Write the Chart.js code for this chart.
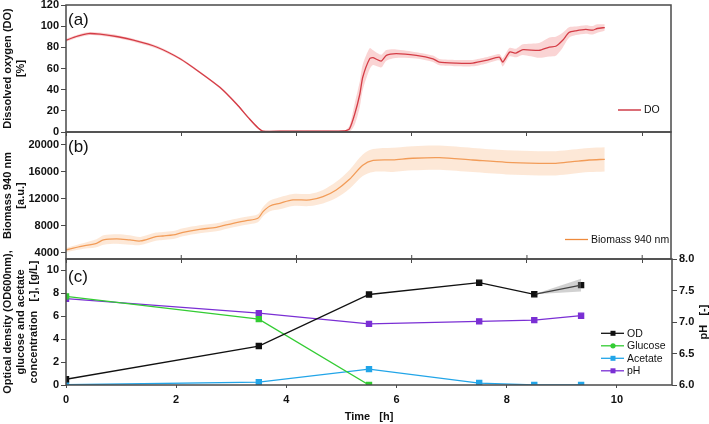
<!DOCTYPE html>
<html>
<head>
<meta charset="utf-8">
<script src="https://cdn.jsdelivr.net/npm/chart.js@4.4.1/dist/chart.umd.min.js"></script>
<style>
  html, body { margin: 0; padding: 0; background: #fff; }
  #wrap { position: relative; width: 709px; height: 424px; }
  #wrap canvas { position: absolute; left: 0; top: 0; }
</style>
</head>
<body>
<div id="wrap">
  <canvas id="panelA" width="709" height="424"></canvas>
  <canvas id="panelB" width="709" height="424"></canvas>
  <canvas id="panelC" width="709" height="424"></canvas>
</div>
<script>
// ---- (a) dissolved oxygen, online signal ----
const doTime = [0, 0.2, 0.39, 0.59, 0.9, 1.17, 1.57, 1.98, 2.32, 2.67, 2.96, 3.19, 3.33, 3.42, 3.8, 4.3, 4.84,
  4.92, 5.01, 5.1, 5.15, 5.27, 5.33, 5.47, 5.56, 5.73, 6.08, 6.37, 6.48, 6.77, 7.06, 7.29, 7.52, 7.58, 7.7,
  7.81, 7.93, 8.21, 8.39, 8.5, 8.62, 8.73, 8.85, 9.02, 9.14, 9.22, 9.35];
const doValue = [86.7, 90.5, 93, 92.4, 90, 86.7, 80.3, 69.2, 56.5, 42.2, 26.4, 12, 4, 0.8, 0.8, 0.8, 1,
  3, 16.8, 35.9, 51.7, 69.2, 70.2, 67, 72.4, 74, 72.4, 69.2, 66, 65.1, 65.1, 67.6, 70.8, 66, 75.5,
  74.6, 77.8, 77.1, 80.3, 81, 86.7, 94, 95.6, 96.9, 96.2, 97.8, 98.7];
const doStd = [1.5, 1.5, 1.5, 1.5, 1.5, 1.5, 1.5, 1.2, 1, 1, 1, 1, 1, 0.5, 0.5, 0.5, 0.5,
  3, 10, 12, 12, 10, 7, 6, 5, 4, 3, 3, 3, 3, 3, 3, 3, 4, 4,
  4, 5, 7, 9, 9, 7, 5, 4, 4, 4, 4, 3];

// ---- (b) biomass 940 nm, online signal ----
const bmTime = [0, 0.24, 0.53, 0.65, 0.88, 1.11, 1.29, 1.56, 1.68, 1.86, 2.03, 2.32, 2.61, 2.9, 3.13, 3.33,
  3.42, 3.54, 3.71, 3.94, 4.23, 4.46, 4.69, 4.92, 5.15, 5.33, 5.67, 6.02, 6.48, 7.06, 7.64, 8.21, 8.5,
  8.79, 9.08, 9.35];
const bmValue = [4400, 4890, 5400, 5890, 6040, 5890, 5740, 6380, 6480, 6630, 7030, 7470, 7770, 8370, 8750, 9110,
  10100, 10940, 11340, 11830, 11830, 12320, 13320, 14900, 17000, 17700, 17800, 18030, 18120, 17770, 17430, 17280, 17280,
  17520, 17770, 17870];
const bmStd = [300, 400, 600, 700, 700, 700, 600, 600, 600, 600, 600, 600, 600, 600, 600, 600,
  700, 800, 900, 900, 900, 1000, 1200, 1400, 1600, 1700, 1800, 1800, 1800, 1800, 1800, 1800, 1800,
  1800, 1800, 1800];

// ---- (c) offline samples ----
const sampleTime = [0, 3.5, 5.5, 7.5, 8.5, 9.35];
const odValue = [0.5, 3.4, 7.9, 8.93, 7.92, 8.72];
const odStd = [0, 0, 0, 0, 0, 0.55];
const glucoseTime = [0, 3.5, 5.5];
const glucoseValue = [7.74, 5.75, 0];
const acetateValue = [0.02, 0.25, 1.39, 0.17, 0, 0];
const phValue = [7.37, 7.14, 6.97, 7.01, 7.03, 7.1];

// tick labels
const timeTicks = [0, 2, 4, 6, 8, 10];
const doTicks = [0, 20, 40, 60, 80, 100, 120];
const bmTicks = [4000, 8000, 12000, 16000, 20000];
const concTicks = [0, 2, 4, 6, 8, 10];
const phTicks = [6.0, 6.5, 7.0, 7.5, 8.0];

Chart.defaults.font.family = "'Liberation Sans', Arial, sans-serif";
Chart.defaults.color = '#111';

const pts = (xs, ys) => xs.map((x, i) => ({ x: x, y: ys[i] }));
const band = (xs, ys, sd, sign) => xs.map((x, i) => ({ x: x, y: ys[i] + sign * sd[i] }));
const fixedTicks = list => s => { s.ticks = list.map(v => ({ value: v })); };

const AXIS = '#4a4a4a';
const tickFont = { size: 11, weight: 'bold' };
const titleFont = { size: 11, weight: 'bold', lineHeight: 1.2 };

// frame, inner ticks, panel letter and hand placed legend
const panelDecor = {
  id: 'panelDecor',
  afterDraw(chart, args, opts) {
    const { ctx, chartArea: a } = chart;
    ctx.save();
    ctx.strokeStyle = AXIS;
    ctx.lineWidth = 1.5;
    ctx.strokeRect(a.left, a.top, a.right - a.left, a.bottom - a.top);

    if (opts.innerBottomTicks) {
      const xs = chart.scales.x;
      ctx.lineWidth = 1;
      xs.ticks.forEach(t => {
        const px = xs.getPixelForValue(t.value);
        if (px <= a.left + 1) return;
        ctx.beginPath();
        ctx.moveTo(px, a.bottom);
        ctx.lineTo(px, a.bottom - 4);
        ctx.stroke();
      });
    }

    ctx.fillStyle = '#111';
    ctx.textAlign = 'left';
    ctx.textBaseline = 'middle';
    ctx.font = "17px 'Liberation Sans', Arial, sans-serif";
    ctx.fillText(opts.label, a.left + 2, a.top + opts.labelDy);

    ctx.font = "10.5px 'Liberation Sans', Arial, sans-serif";
    (opts.legend || []).forEach((it, i) => {
      const y = opts.legendY + i * 12.5;
      ctx.strokeStyle = it.color;
      ctx.lineWidth = 1.3;
      ctx.beginPath();
      ctx.moveTo(opts.legendX, y);
      ctx.lineTo(opts.legendX + 23, y);
      ctx.stroke();
      ctx.fillStyle = it.color;
      const mx = opts.legendX + 12;
      if (it.marker === 'rect') ctx.fillRect(mx - 2.5, y - 2.5, 5, 5);
      if (it.marker === 'circle') { ctx.beginPath(); ctx.arc(mx, y, 2.6, 0, Math.PI * 2); ctx.fill(); }
      ctx.fillStyle = '#111';
      ctx.fillText(it.text, opts.legendX + 26, y + 0.5);
    });

    if (opts.rightTitle) {
      ctx.save();
      ctx.translate(704, (a.top + a.bottom) / 2);
      ctx.rotate(-Math.PI / 2);
      ctx.textAlign = 'center';
      ctx.font = "bold 11px 'Liberation Sans', Arial, sans-serif";
      ctx.fillText(opts.rightTitle, 0, 0);
      ctx.restore();
    }
    ctx.restore();
  }
};

function yFit(w) {
  return scale => { scale.width = w; scale.paddingTop = 0; scale.paddingBottom = 0; };
}
function xFit(h) {
  return scale => { scale.height = h; scale.paddingLeft = 0; scale.paddingRight = 0; };
}

function hiddenX(max) {
  return {
    type: 'linear', min: 0, max: max,
    afterBuildTicks: fixedTicks(timeTicks),
    ticks: { display: false },
    grid: { drawOnChartArea: false, drawTicks: true, tickLength: 4, color: AXIS },
    border: { display: false },
    afterFit: xFit(0)
  };
}

function leftY(min, max, list, title, w) {
  return {
    type: 'linear', position: 'left', min: min, max: max,
    afterBuildTicks: fixedTicks(list),
    ticks: { font: tickFont, padding: 2, color: '#111', callback: v => String(v) },
    grid: { drawOnChartArea: false, tickLength: 5, color: AXIS },
    border: { display: false },
    title: { display: true, text: title, font: titleFont, color: '#111', padding: { top: 1, bottom: 0 } },
    afterFit: yFit(w)
  };
}

const baseOpts = {
  responsive: false,
  animation: false,
  events: [],
  plugins: { legend: { display: false }, tooltip: { enabled: false } }
};

// ---------------- panel (a) ----------------
new Chart(document.getElementById('panelA'), {
  type: 'line',
  data: {
    datasets: [
      { data: band(doTime, doValue, doStd, 1), borderWidth: 0, pointRadius: 0, fill: '+1',
        backgroundColor: 'rgba(240,120,120,0.32)', tension: 0.25 },
      { data: band(doTime, doValue, doStd, -1), borderWidth: 0, pointRadius: 0, fill: false, tension: 0.25 },
      { data: pts(doTime, doValue), borderColor: '#c8202e', borderWidth: 1.3, pointRadius: 0, fill: false, tension: 0.2 }
    ]
  },
  options: Object.assign({}, baseOpts, {
    layout: { padding: { left: 0, top: 5, right: 38, bottom: 292 } },
    scales: {
      x: hiddenX(10.5),
      y: leftY(0, 120, doTicks, ['Dissolved oxygen (DO)', '[%]'], 66)
    },
    plugins: Object.assign({}, baseOpts.plugins, {
      panelDecor: { label: '(a)', labelDy: 15, legendX: 618, legendY: 110,
        legend: [{ text: 'DO', color: '#c8202e' }] }
    })
  }),
  plugins: [panelDecor]
});

// ---------------- panel (b) ----------------
new Chart(document.getElementById('panelB'), {
  type: 'line',
  data: {
    datasets: [
      { data: band(bmTime, bmValue, bmStd, 1), borderWidth: 0, pointRadius: 0, fill: '+1',
        backgroundColor: 'rgba(250,190,140,0.35)', tension: 0.3 },
      { data: band(bmTime, bmValue, bmStd, -1), borderWidth: 0, pointRadius: 0, fill: false, tension: 0.3 },
      { data: pts(bmTime, bmValue), borderColor: '#ee8a3c', borderWidth: 1.3, pointRadius: 0, fill: false, tension: 0.3 }
    ]
  },
  options: Object.assign({}, baseOpts, {
    layout: { padding: { left: 0, top: 132, right: 38, bottom: 165 } },
    scales: {
      x: hiddenX(10.5),
      y: leftY(3060, 21930, bmTicks, ['Biomass 940 nm', '[a.u.]'], 66)
    },
    plugins: Object.assign({}, baseOpts.plugins, {
      panelDecor: { label: '(b)', labelDy: 15, legendX: 565, legendY: 239.5, innerBottomTicks: true,
        legend: [{ text: 'Biomass 940 nm', color: '#ee8a3c' }] }
    })
  }),
  plugins: [panelDecor]
});

// ---------------- panel (c) ----------------
new Chart(document.getElementById('panelC'), {
  type: 'line',
  data: {
    datasets: [
      { data: band(sampleTime, odValue, odStd, 1).slice(4), borderWidth: 0, pointRadius: 0, fill: '+1',
        backgroundColor: 'rgba(140,140,140,0.4)', yAxisID: 'y' },
      { data: band(sampleTime, odValue, odStd, -1).slice(4), borderWidth: 0, pointRadius: 0, fill: false, yAxisID: 'y' },
      { label: 'OD', data: pts(sampleTime, odValue), borderColor: '#111', backgroundColor: '#111',
        borderWidth: 1.3, pointStyle: 'rect', pointRadius: 3.6, yAxisID: 'y' },
      { label: 'Glucose', data: pts(glucoseTime, glucoseValue), borderColor: '#33cc33', backgroundColor: '#33cc33',
        borderWidth: 1.3, pointStyle: 'rect', pointRadius: 3.6, yAxisID: 'y' },
      { label: 'Acetate', data: pts(sampleTime, acetateValue), borderColor: '#22a5e8', backgroundColor: '#22a5e8',
        borderWidth: 1.3, pointStyle: 'rect', pointRadius: 3.6, yAxisID: 'y' },
      { label: 'pH', data: pts(sampleTime, phValue), borderColor: '#7a2fd4', backgroundColor: '#7a2fd4',
        borderWidth: 1.3, pointStyle: 'rect', pointRadius: 3.6, yAxisID: 'ph' }
    ]
  },
  options: Object.assign({}, baseOpts, {
    layout: { padding: { left: 0, top: 259, right: 0, bottom: 0 } },
    scales: {
      x: {
        type: 'linear', min: 0, max: 11,
        afterBuildTicks: fixedTicks(timeTicks),
        ticks: { font: tickFont, padding: 5, color: '#111', callback: v => String(v) },
        grid: { drawOnChartArea: false, tickLength: 3, color: AXIS },
        border: { display: false },
        title: { display: true, text: 'Time   [h]', font: titleFont, color: '#111', padding: { top: 0, bottom: 0 } },
        afterFit: xFit(39)
      },
      y: leftY(0, 11, concTicks, ['Optical density (OD600nm),', 'glucose and acetate', 'concentration   [-], [g/L]'], 66),
      ph: {
        type: 'linear', position: 'right', min: 6, max: 8,
        afterBuildTicks: fixedTicks(phTicks),
        ticks: { font: tickFont, padding: 2, color: '#111', callback: v => Number(v).toFixed(1) },
        grid: { drawOnChartArea: false, tickLength: 5, color: AXIS },
        border: { display: false },
        afterFit: yFit(37)
      }
    },
    plugins: Object.assign({}, baseOpts.plugins, {
      panelDecor: { label: '(c)', labelDy: 18, legendX: 601, legendY: 333.3, rightTitle: 'pH   [-]',
        legend: [
          { text: 'OD', color: '#111', marker: 'rect' },
          { text: 'Glucose', color: '#33cc33', marker: 'circle' },
          { text: 'Acetate', color: '#22a5e8', marker: 'rect' },
          { text: 'pH', color: '#7a2fd4', marker: 'rect' }
        ] }
    })
  }),
  plugins: [panelDecor]
});
</script>
</body>
</html>
